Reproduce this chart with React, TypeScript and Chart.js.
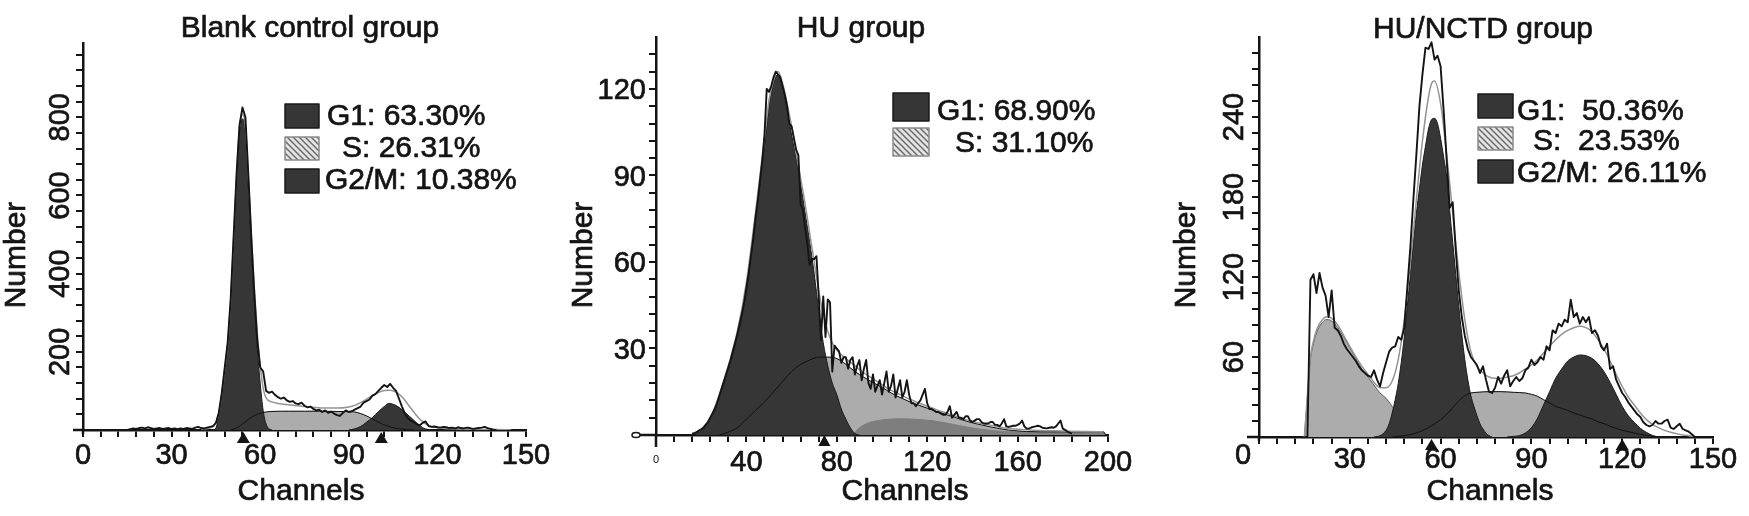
import React, { useEffect, useRef } from "react";
import { Chart, registerables } from "chart.js";

Chart.register(...registerables);

const W = 1749;
const H = 516;
const FONT = "'Liberation Sans', Arial, Helvetica, sans-serif";
const INK = "#141414";
const DARK = "#363636";
const LIGHT = "#acacac";
const MID = "#7e7e7e";
const FIT = "#949494";

// ================= Panel 1 : Blank control group =================
const BLANK_TITLE = "Blank control group";
const BLANK_LEGEND = ["G1: 63.30%", "S: 26.31%", "G2/M: 10.38%"];
const BLANK_X_LABELS = [0, 30, 60, 90, 120, 150];
const BLANK_Y_LABELS = [200, 400, 600, 800];
const BLANK_MARKERS = [54.3, 101];
const BLANK_G1 = [[44, 0], [45, 5], [46, 40], [47, 90], [48, 150], [49, 210], [50, 320], [51, 480], [52, 640], [53, 760], [54, 796], [55, 760], [56, 620], [57, 470], [58, 330], [59, 210], [60, 120], [61, 50], [62, 15], [63, 3], [64, 0]];
const BLANK_S = [[50, 0], [52, 5], [54, 15], [56, 27], [58, 37], [60, 43], [62, 46], [64, 47.5], [70, 48], [75, 48], [80, 48], [85, 47.5], [90, 47], [92, 46], [94, 42], [96, 36], [98, 28], [100, 20], [102, 13], [104, 8], [106, 4], [108, 2], [110, 0.5], [112, 0]];
const BLANK_G2 = [[90, 0], [92, 3], [94, 9], [96, 20], [98, 32], [100, 47], [102, 60], [103.5, 68], [105, 66], [107, 58], [109, 45], [111, 32], [113, 18], [115, 6], [117, 1], [118, 0]];
const BLANK_FIT = [[40, 2], [44, 8], [46, 44], [47, 92], [48, 155], [49, 218], [50, 328], [51, 488], [52, 650], [53, 775], [54, 808], [55, 775], [56, 645], [57, 500], [58, 365], [59, 250], [60, 165], [61, 108], [62, 82], [64, 72], [66, 68], [68, 66], [70, 64], [74, 61], [78, 58], [82, 56], [86, 56], [90, 59], [92, 63], [94, 70], [96, 79], [98, 88], [100, 96], [102, 101], [104, 102], [106, 97], [108, 85], [110, 66], [112, 46], [114, 28], [116, 16], [118, 9], [120, 6], [125, 3], [130, 2], [140, 1], [145, 0]];
const BLANK_RAW_START = 15;
const BLANK_RAW = [
  0, 2, 4, 3, 5, 6, 4, 7, 5, 3,
  4, 5, 3, 4, 5, 3, 4, 2, 4, 3,
  5, 4, 3, 6, 8, 5, 4, 6, 8, 10,
  18, 45, 95, 160, 225, 335, 495, 655, 780, 825,
  800, 650, 490, 350, 230, 160, 150, 100, 95, 98,
  90, 84, 80, 83, 76, 72, 74, 68, 66, 70,
  62, 58, 60, 54, 50, 52, 46, 50, 44, 47,
  42, 38, 36, 44, 50, 46, 48, 52, 56, 60,
  70, 74, 78, 88, 92, 100, 108, 115, 110, 118,
  108, 100, 80, 60, 42, 30, 24, 20, 15, 12,
  18, 22, 10, 8, 9, 7, 6, 8, 7, 5,
  6, 4, 7, 5, 4, 6, 5, 3, 4, 5,
  6, 8, 5, 3, 1, 0,
];

// ================= Panel 2 : HU group =================
const HU_TITLE = "HU group";
const HU_LEGEND = ["G1: 68.90%", "S: 31.10%"];
const HU_X_LABELS = [40, 80, 120, 160, 200];
const HU_Y_LABELS = [30, 60, 90, 120];
const HU_MARKERS = [74.5];
const HU_G1 = [[16, 0], [18, 0.5], [20, 1.5], [22, 3], [24, 5.5], [26, 8.5], [28, 13.5], [30, 18], [32, 23], [34, 28], [36, 34], [38, 41], [40, 50], [42, 62], [44, 74], [46, 87], [48, 100], [50, 114], [52, 122], [54, 125], [56, 121], [58, 113], [60, 104], [62, 96], [64, 87], [66, 77], [68, 67], [70, 56], [72, 43], [74, 32], [76, 24], [78, 18], [80, 14], [82, 9], [84, 5.5], [86, 2.5], [88, 0.5], [90, 0]];
const HU_S = [[28, 0], [32, 1], [36, 2.5], [40, 5.5], [44, 8.5], [48, 11.5], [52, 15], [56, 18.5], [60, 22], [64, 24.5], [68, 26], [72, 27], [76, 27], [80, 26.5], [84, 24.5], [88, 22], [92, 20], [96, 18.2], [100, 16.5], [104, 14.6], [108, 13], [112, 11.6], [116, 10.4], [120, 9.3], [124, 8.2], [128, 7.2], [132, 6.2], [136, 5.1], [140, 4.2], [144, 3.5], [148, 2.8], [152, 2.2], [156, 1.7], [160, 1.4], [164, 1.2], [170, 1.1], [180, 1.1], [190, 1.1], [198, 1.1], [199, 0]];
const HU_BAND = [[87, 0], [90, 2.5], [94, 4.2], [98, 5], [102, 5.4], [106, 5.6], [110, 5.6], [114, 5.5], [118, 5.3], [122, 5], [126, 4.5], [130, 3.9], [134, 3.3], [138, 2.7], [142, 2.2], [146, 1.8], [150, 1.5], [154, 1.2], [160, 1], [170, 0.9], [180, 0.9], [190, 0.9], [198, 0.9], [199, 0]];
const HU_FIT = [[16, 0.5], [20, 2], [24, 6], [28, 14], [32, 24], [36, 36], [40, 53], [44, 77], [48, 103], [50, 116], [52, 123], [54, 126], [56, 122], [58, 115], [60, 107], [62, 98], [64, 89], [66, 80], [68, 70], [70, 60], [72, 50], [74, 42], [76, 36], [78, 32], [80, 29.5], [84, 26.5], [88, 24], [92, 21.5], [96, 19.5], [100, 17.5], [104, 15.5], [108, 14], [112, 12.5], [116, 11.2], [120, 10], [124, 8.8], [128, 7.7], [132, 6.6], [136, 5.6], [140, 4.7], [144, 4], [148, 3.4], [152, 2.8], [156, 2.3], [160, 2], [170, 1.6], [180, 1.4], [190, 1.2], [198, 1.1]];
const HU_RAW_START = 16;
const HU_RAW = [
  0.5, 0.5, 1, 1.5, 2, 2.5, 3.5, 4.5, 6, 7.5,
  9, 11, 13.5, 16, 18.5, 21, 23.5, 26, 29, 32,
  35, 38.5, 42, 46, 51, 56, 62, 68, 75, 81,
  88, 95, 104, 120, 119, 121, 124, 126, 125, 124,
  121, 118, 114, 108, 107, 103, 99, 97, 80, 78,
  72, 66, 59, 61, 61, 62, 48, 33, 48, 34,
  47, 46, 22, 31, 30, 29, 25, 27, 27, 23,
  26, 27, 21, 24, 26, 19, 23, 26, 18, 16,
  21, 15, 17, 19, 14, 18, 22, 15, 17, 21,
  13, 16, 19, 13, 15, 19, 14, 11, 11, 10,
  11, 12, 14, 16, 11, 9, 9, 8.5, 8, 8,
  7.5, 7, 7, 8, 10, 6, 7, 8, 6, 6,
  5.5, 6.5, 6.5, 5, 4.5, 5, 5.5, 5.5, 4.5, 4,
  4, 4, 4.5, 4.5, 3.5, 3.5, 3, 4, 5.5, 3,
  2.8, 3, 3.2, 3.2, 3.5, 4, 5, 3, 2.2, 2.2,
  2.6, 2.8, 3, 3.2, 3, 2.5, 2.4, 2.3, 2.5, 2.7,
  2.5, 3, 4, 5, 2.2, 1.8, 1.2, 0.8, 0.5,
];

// ================= Panel 3 : HU/NCTD group =================
const NCTD_TITLE = "HU/NCTD group";
const NCTD_LEGEND = ["G1:  50.36%", "S:  23.53%", "G2/M: 26.11%"];
const NCTD_X_LABELS = [30, 60, 90, 120, 150];
const NCTD_Y_LABELS = [60, 120, 180, 240];
const NCTD_MARKERS = [57, 120];
const NCTD_DEBRIS = [[15, 0], [16, 30], [17, 58], [18, 70], [19, 78], [20, 83], [21, 86], [22, 88], [23, 88], [24, 87], [25, 85], [26, 82], [28, 75], [30, 67], [32, 59], [34, 51], [36, 45], [38, 39], [40, 33], [42, 29], [44, 23], [46, 17], [48, 12], [50, 8], [52, 5], [54, 3], [56, 2], [58, 1], [60, 0]];
const NCTD_G1 = [[38, 0], [40, 1], [42, 5], [43, 10], [44, 18], [45, 28], [46, 40], [47, 56], [48, 75], [49, 98], [50, 122], [51, 146], [52, 168], [53, 186], [54, 204], [55, 218], [56, 231], [57, 238], [58, 239], [59, 235], [60, 224], [61, 210], [62, 195], [63, 170], [64, 146], [65, 122], [66, 98], [67, 77], [68, 58], [69, 43], [70, 31], [71, 23], [72, 16], [73, 10], [74, 6], [75, 3], [76, 1], [77, 0]];
const NCTD_S = [[44, 0], [48, 1], [52, 3], [56, 7], [60, 13], [62, 17], [64, 22], [66, 27], [68, 31], [70, 33], [72, 33.5], [76, 34], [80, 34], [84, 33.5], [88, 33], [90, 32], [92, 30.5], [94, 28], [96, 25.5], [98, 23], [100, 21.5], [102, 20], [104, 18], [106, 16.5], [108, 15], [110, 13.5], [112, 11.5], [114, 10], [116, 8], [118, 6.5], [120, 5], [122, 4], [124, 3], [126, 2], [128, 1.2], [130, 0.5], [132, 0]];
const NCTD_G2 = [[82, 0], [84, 0.5], [86, 1], [88, 3], [90, 7], [92, 14], [94, 24], [96, 34], [98, 44], [100, 51], [102, 57], [104, 60], [106, 61.5], [108, 61], [110, 59], [112, 55], [114, 49], [116, 41], [118, 32], [120, 23], [122, 16], [124, 11], [126, 6.5], [128, 3.5], [130, 1.2], [132, 0]];
const NCTD_FIT = [[15, 0], [16, 32], [17, 60], [18, 72], [19, 80], [20, 85], [21, 88], [22, 90], [23, 90], [24, 89], [26, 84], [28, 76], [30, 68], [32, 60], [34, 53], [36, 47], [38, 41], [40, 37], [42, 37], [44, 42], [46, 58], [48, 88], [50, 130], [52, 178], [54, 222], [56, 255], [57, 265], [58, 267], [60, 250], [62, 212], [64, 168], [66, 124], [68, 88], [70, 64], [72, 53], [74, 48], [76, 45], [78, 44], [80, 44], [82, 45], [84, 46], [86, 48], [88, 51], [90, 54], [92, 58], [94, 63], [96, 68], [98, 73], [100, 77], [102, 80], [104, 82], [106, 83], [108, 82], [110, 79], [112, 73], [114, 66], [116, 57], [118, 47], [120, 38], [122, 30], [124, 24], [126, 18], [128, 13], [130, 9.5], [132, 7], [134, 5], [136, 3.5], [138, 2.5], [140, 1.5], [142, 1], [144, 0]];
const NCTD_RAW_START = 15;
const NCTD_RAW = [
  0, 0, 118, 122, 108, 123, 112, 106, 90, 110,
  82, 80, 76, 70, 66, 63, 60, 57, 53, 50,
  48, 46, 45, 50, 43, 38, 48, 56, 64, 67,
  68, 75, 73, 82, 112, 142, 178, 212, 248, 272,
  292, 291, 296, 283, 286, 278, 245, 208, 172, 176,
  140, 110, 90, 76, 66, 60, 57, 54, 48, 53,
  43, 34, 33, 37, 45, 40, 46, 50, 38, 42,
  45, 42, 44, 50, 52, 58, 54, 56, 60, 58,
  68, 65, 80, 78, 85, 83, 88, 86, 103, 90,
  93, 85, 90, 86, 90, 78, 80, 76, 68, 65,
  70, 51, 53, 43, 38, 33, 30, 26, 23, 20,
  17, 15, 11, 9, 8, 9, 12, 10, 10, 12,
  13, 7, 6, 8, 10, 6, 5, 4, 2, 0,
];

// ================= helpers =================
const pts = (a: number[][]) => a.map(([x, y]) => ({ x, y }));
const seq = (start: number, vals: number[]) => vals.map((y, i) => ({ x: start + i, y }));
const steps = (max: number, step: number) => {
  const r: number[] = [];
  for (let v = 0; v <= max + 1e-9; v += step) r.push(v);
  return r;
};
const area = (data: any[], color: string, border: string, order: number, bw = 1) => ({
  data, order, fill: "origin", backgroundColor: color, borderColor: border, borderWidth: bw,
  pointRadius: 0, tension: 0.4, cubicInterpolationMode: "monotone",
});
const line = (data: any[], color: string, width: number, order: number, smooth: boolean) => ({
  data, order, fill: false, borderColor: color, borderWidth: width, pointRadius: 0,
  tension: smooth ? 0.4 : 0, cubicInterpolationMode: smooth ? "monotone" : "default",
  borderJoinStyle: "round",
});

const PANELS = [
  {
    key: "blank", title: BLANK_TITLE, legend: BLANK_LEGEND,
    xMax: 150, yMax: 990, xMinor: steps(150, 6), yMinor: steps(960, 40),
    xLabels: BLANK_X_LABELS, yLabels: BLANK_Y_LABELS, markers: BLANK_MARKERS,
    datasets: () => [
      line(seq(BLANK_RAW_START, BLANK_RAW), INK, 1.9, 0, false),
      line(pts(BLANK_FIT), FIT, 1.5, 1, true),
      line(pts(BLANK_S), "#111", 1, 2, true),
      area(pts(BLANK_G2), DARK, "#1c1c1c", 3),
      area(pts(BLANK_G1), DARK, "#1c1c1c", 4),
      area(pts(BLANK_S), LIGHT, LIGHT, 5),
    ],
    L: {
      x0: 83, x1: 526, y0: 430, yTop: 43, xAxisStart: 73, yAxisEnd: 434,
      mTop: 432, mBot: 443, mHalf: 6.5, xLabelBase: 464, yRot: true, yLabelPos: 69,
      title: [310, 37], number: [25, 255], channels: [301, 500],
      boxX: 285, boxW: 34,
      rows: [[104, 24, 327, 125], [137, 23, 342, 157], [169, 24, 325, 189]],
    },
  },
  {
    key: "hu", title: HU_TITLE, legend: HU_LEGEND,
    xMax: 200, yMax: 138, xMinor: steps(200, 8), yMinor: steps(132, 6),
    xLabels: HU_X_LABELS, yLabels: HU_Y_LABELS, markers: HU_MARKERS,
    datasets: () => [
      line(seq(HU_RAW_START, HU_RAW), INK, 1.9, 0, false),
      line(pts(HU_FIT), FIT, 1.5, 1, true),
      line(pts(HU_S), "#111", 1, 2, true),
      area(pts(HU_G1), DARK, "#1c1c1c", 3),
      area(pts(HU_BAND), MID, MID, 4),
      area(pts(HU_S), LIGHT, LIGHT, 5),
    ],
    L: {
      x0: 656, x1: 1108, y0: 435, yTop: 37, xAxisStart: 640, yAxisEnd: 447,
      mTop: 435, mBot: 446, mHalf: 6, xLabelBase: 471, yRot: false, yLabelPos: 646,
      title: [861, 37], number: [592, 255], channels: [905, 500],
      boxX: 893, boxW: 36,
      rows: [[93, 28, 937, 120], [128, 28, 955, 152]],
      tiny: true,
    },
  },
  {
    key: "nctd", title: NCTD_TITLE, legend: NCTD_LEGEND,
    xMax: 150, yMax: 300, xMinor: steps(150, 6), yMinor: steps(288, 12),
    xLabels: NCTD_X_LABELS, yLabels: NCTD_Y_LABELS, markers: NCTD_MARKERS,
    datasets: () => [
      line(seq(NCTD_RAW_START, NCTD_RAW), INK, 1.9, 0, false),
      line(pts(NCTD_FIT), FIT, 1.5, 1, true),
      line(pts(NCTD_S), "#111", 1, 2, true),
      area(pts(NCTD_G2), DARK, "#1c1c1c", 3),
      area(pts(NCTD_G1), DARK, "#1c1c1c", 4),
      area(pts(NCTD_S), LIGHT, LIGHT, 5),
      area(pts(NCTD_DEBRIS), LIGHT, "#5e5e5e", 6),
    ],
    L: {
      x0: 1259, x1: 1713, y0: 437, yTop: 37, xAxisStart: 1247, yAxisEnd: 441,
      mTop: 439, mBot: 450, mHalf: 6.5, xLabelBase: 468, yRot: true, yLabelPos: 1243,
      title: [1483, 38], number: [1195, 255], channels: [1490, 500],
      boxX: 1478, boxW: 35,
      rows: [[94, 24, 1517, 120], [127, 23, 1533, 150], [160, 23, 1517, 182]],
      cornerZero: [1243, 464],
    },
  },
];

function makeHatch(ctx: CanvasRenderingContext2D) {
  const c = document.createElement("canvas");
  c.width = 6;
  c.height = 6;
  const g = c.getContext("2d")!;
  g.fillStyle = "#e4e4e4";
  g.fillRect(0, 0, 6, 6);
  g.strokeStyle = "#6c6c6c";
  g.lineWidth = 1.5;
  g.beginPath();
  g.moveTo(-1, -1); g.lineTo(7, 7);
  g.moveTo(-4, 2); g.lineTo(4, 10);
  g.moveTo(2, -4); g.lineTo(10, 4);
  g.stroke();
  return ctx.createPattern(c, "repeat");
}

// heavier text, like the blurred print of the original
function text(ctx: CanvasRenderingContext2D, s: string, x: number, y: number) {
  ctx.fillText(s, x, y);
  ctx.strokeText(s, x, y);
}

function makeDecor(p: any, hatch: any) {
  return {
    id: "decor_" + p.key,
    afterDraw(chart: any) {
      const ctx: CanvasRenderingContext2D = chart.ctx;
      const xs = chart.scales.x;
      const ys = chart.scales.y;
      const L = p.L;
      const px0 = xs.getPixelForValue(0);
      const py0 = ys.getPixelForValue(0);
      ctx.save();
      ctx.strokeStyle = INK;
      ctx.fillStyle = INK;
      ctx.lineWidth = 2.5;
      // axis extensions
      ctx.beginPath();
      ctx.moveTo(L.xAxisStart, py0);
      ctx.lineTo(px0, py0);
      ctx.moveTo(px0, py0);
      ctx.lineTo(px0, L.yAxisEnd);
      ctx.stroke();
      // triangle markers
      for (const m of p.markers) {
        const mx = xs.getPixelForValue(m);
        ctx.beginPath();
        ctx.moveTo(mx, L.mTop);
        ctx.lineTo(mx + L.mHalf, L.mBot);
        ctx.lineTo(mx - L.mHalf, L.mBot);
        ctx.closePath();
        ctx.fill();
      }
      ctx.lineWidth = 0.7;
      ctx.lineJoin = "round";
      // x tick labels
      ctx.font = `29px ${FONT}`;
      ctx.textAlign = "center";
      ctx.textBaseline = "alphabetic";
      for (const v of p.xLabels) text(ctx, String(v), xs.getPixelForValue(v), L.xLabelBase);
      if (L.cornerZero) text(ctx, "0", L.cornerZero[0], L.cornerZero[1]);
      // y tick labels
      if (L.yRot) {
        for (const v of p.yLabels) {
          ctx.save();
          ctx.translate(L.yLabelPos, ys.getPixelForValue(v));
          ctx.rotate(-Math.PI / 2);
          text(ctx, String(v), 0, 0);
          ctx.restore();
        }
      } else {
        ctx.textAlign = "right";
        for (const v of p.yLabels) text(ctx, String(v), L.yLabelPos, ys.getPixelForValue(v) + 10.5);
      }
      if (L.tiny) {
        ctx.lineWidth = 1.5;
        ctx.beginPath();
        ctx.ellipse(L.xAxisStart - 4, py0, 4, 2.5, 0, 0, Math.PI * 2);
        ctx.fillStyle = "#fff";
        ctx.fill();
        ctx.stroke();
        ctx.fillStyle = INK;
        ctx.font = `11px ${FONT}`;
        ctx.textAlign = "center";
        ctx.fillText("0", px0, 463);
        ctx.lineWidth = 0.7;
      }
      // titles
      ctx.font = `30px ${FONT}`;
      ctx.textAlign = "center";
      text(ctx, p.title, L.title[0], L.title[1]);
      text(ctx, "Channels", L.channels[0], L.channels[1]);
      ctx.save();
      ctx.translate(L.number[0], L.number[1]);
      ctx.rotate(-Math.PI / 2);
      text(ctx, "Number", 0, 0);
      ctx.restore();
      // legend
      ctx.textAlign = "left";
      p.legend.forEach((txt: string, i: number) => {
        const [top, h, tx, ty] = L.rows[i];
        ctx.fillStyle = i === 1 ? hatch : DARK;
        ctx.fillRect(L.boxX, top, L.boxW, h);
        ctx.lineWidth = 1.5;
        ctx.strokeStyle = i === 1 ? "#8a8a8a" : "#1a1a1a";
        ctx.strokeRect(L.boxX, top, L.boxW, h);
        ctx.fillStyle = INK;
        ctx.strokeStyle = INK;
        ctx.lineWidth = 0.7;
        text(ctx, txt, tx, ty);
      });
      ctx.restore();
    },
  };
}

const TL = 7;

function PanelChart({ p }: { p: any }) {
  const ref = useRef<HTMLCanvasElement>(null);
  useEffect(() => {
    const canvas = ref.current!;
    const ctx = canvas.getContext("2d")!;
    const hatch = makeHatch(ctx);
    const L = p.L;
    const axisCommon = {
      type: "linear",
      min: 0,
      ticks: { display: false },
      grid: { display: true, drawOnChartArea: false, drawTicks: true, tickLength: TL, color: INK, lineWidth: 2 },
      border: { display: true, color: INK, width: 2.5 },
    };
    const chart = new Chart(canvas, {
      type: "line",
      data: { datasets: p.datasets() },
      options: {
        responsive: false,
        animation: false,
        events: [],
        devicePixelRatio: 1,
        layout: {
          padding: { left: L.x0 - TL, right: W - L.x1, top: L.yTop, bottom: H - L.y0 - TL },
        },
        plugins: { legend: { display: false }, tooltip: { enabled: false }, title: { display: false } },
        scales: {
          x: {
            ...axisCommon,
            max: p.xMax,
            afterFit: (s: any) => { s.height = TL; },
            afterBuildTicks: (s: any) => { s.ticks = p.xMinor.map((v: number) => ({ value: v })); },
          },
          y: {
            ...axisCommon,
            max: p.yMax,
            afterFit: (s: any) => { s.width = TL; },
            afterBuildTicks: (s: any) => { s.ticks = p.yMinor.map((v: number) => ({ value: v })); },
          },
        },
      } as any,
      plugins: [makeDecor(p, hatch)],
    } as any);
    return () => chart.destroy();
  }, [p]);
  return (
    <canvas
      ref={ref}
      width={W}
      height={H}
      style={{ position: "absolute", left: 0, top: 0, width: W, height: H }}
    />
  );
}

export default function App() {
  return (
    <div style={{ position: "absolute", left: 0, top: 0, width: W, height: H, background: "#fff", overflow: "hidden" }}>
      {PANELS.map((p) => (
        <PanelChart key={p.key} p={p} />
      ))}
    </div>
  );
}
